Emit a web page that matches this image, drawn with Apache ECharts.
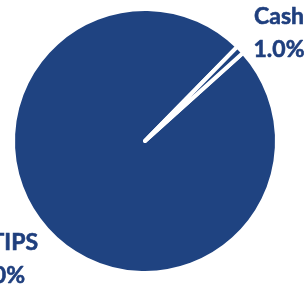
<!DOCTYPE html>
<html>
<head>
<meta charset="utf-8">
<script src="https://cdn.jsdelivr.net/npm/echarts@6/dist/echarts.min.js"></script>
<style>
  html, body { margin: 0; padding: 0; background: #fff; }
  #main { width: 308px; height: 293px; }
</style>
</head>
<body>
<div id="main"></div>
<script>
// data
var names = ['TIPS', 'Cash'];
var values = [99.0, 1.0];

var pieData = names.map(function (n, i) {
  return { name: n, value: values[i] };
});

var myChart = echarts.init(document.getElementById('main'));
myChart.setOption({
  animation: false,
  series: [
    {
      type: 'pie',
      center: [145, 141],
      radius: 132,
      startAngle: 42,
      clockwise: true,
      data: pieData,
      itemStyle: {
        color: '#1F4381',
        borderColor: '#ffffff',
        borderWidth: 4
      },
      emphasis: { disabled: true },
      label: {
        show: true,
        position: 'inside',
        formatter: function (p) {
          if (p.name === 'TIPS') {
            return '{a|' + p.name + '}\n{b|' + p.value.toFixed(1) + '%}';
          }
          return '{a|' + p.name + '}\n{a|' + p.value.toFixed(1) + '%}';
        },
        rich: {
          a: { fontFamily: 'Lato', fontWeight: 'bold', fontSize: 23, lineHeight: 33, color: '#1F3F7E',
               textBorderColor: '#1F3F7E', textBorderWidth: 0.6 },
          b: { fontFamily: 'Lato', fontWeight: 'bold', fontSize: 23, lineHeight: 33, color: '#1F3F7E',
               textBorderColor: '#1F3F7E', textBorderWidth: 0.6, padding: [0, 13, 0, 0] }
        }
      },
      labelLine: { show: false },
      labelLayout: function (params) {
        if (params.dataIndex === 0) {
          return { x: 38, y: 226, align: 'right', verticalAlign: 'top' };
        }
        return { x: 279, y: 0, align: 'center', verticalAlign: 'top' };
      }
    }
  ]
});
</script>
</body>
</html>
